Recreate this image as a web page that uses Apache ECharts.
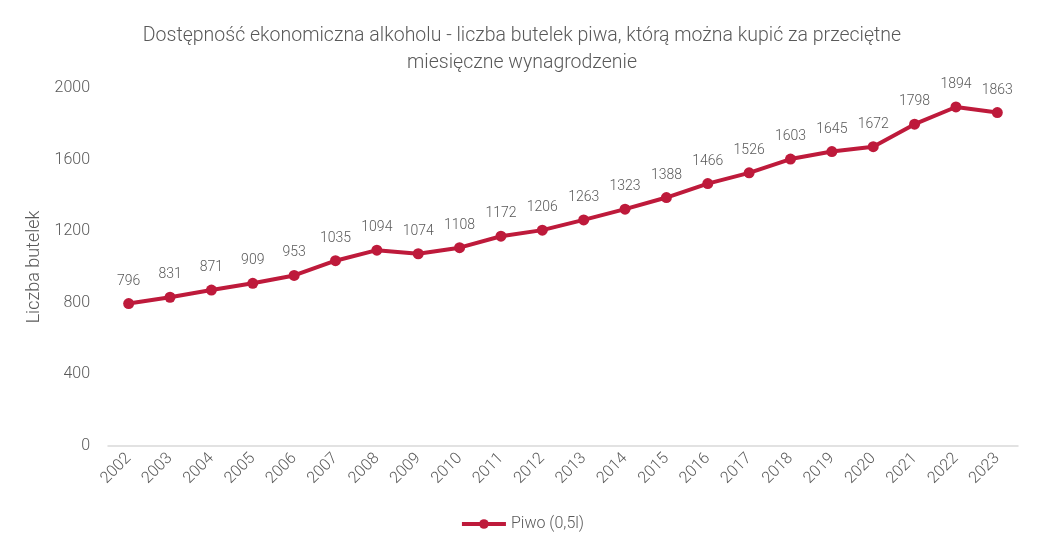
<!DOCTYPE html>
<html><head><meta charset="utf-8">
<script src="https://cdn.jsdelivr.net/npm/echarts@6/dist/echarts.min.js"></script>
<style>html,body{margin:0;padding:0;background:#fff}#c{width:1044px;height:553px}</style>
</head><body><div id="c"></div>
<script>
var categories = ['2002','2003','2004','2005','2006','2007','2008','2009','2010','2011','2012','2013','2014','2015','2016','2017','2018','2019','2020','2021','2022','2023'];
var piwo = [796,831,871,909,953,1035,1094,1074,1108,1172,1206,1263,1323,1388,1466,1526,1603,1645,1672,1798,1894,1863];
var yTicks = [0,400,800,1200,1600,2000];
var FONT = 'Roboto';
var chart = echarts.init(document.getElementById('c'));
chart.setOption({
  backgroundColor:'#fff',
  textStyle:{fontFamily:FONT},
  title:{
    text:'Dostępność ekonomiczna alkoholu - liczba butelek piwa, którą można kupić za przeciętne\nmiesięczne wynagrodzenie',
    left:'center', top:18,
    textStyle:{fontFamily:FONT,fontWeight:300,fontSize:19.5,color:'#595959',lineHeight:27}
  },
  legend:{
    bottom:16, left:'center',
    itemWidth:44, itemHeight:12, itemGap:4,
    lineStyle:{width:4},
    textStyle:{fontFamily:FONT,fontWeight:300,fontSize:16,color:'#595959'},
    data:['Piwo (0,5l)']
  },
  grid:{left:108,right:26,top:88,bottom:107},
  xAxis:{
    type:'category', data:categories, boundaryGap:true,
    axisLine:{lineStyle:{color:'#d9d9d9',width:1.5}},
    axisTick:{show:false},
    axisLabel:{rotate:45,fontFamily:FONT,fontWeight:300,fontSize:16,color:'#595959',margin:10}
  },
  yAxis:{
    type:'value', min:yTicks[0], max:yTicks[yTicks.length-1], interval:400,
    name:'Liczba butelek', nameLocation:'middle', nameGap:60, nameRotate:90,
    nameTextStyle:{fontFamily:FONT,fontWeight:300,fontSize:18,color:'#595959'},
    axisLine:{show:false}, axisTick:{show:false}, splitLine:{show:false},
    axisLabel:{fontFamily:FONT,fontWeight:300,fontSize:16,color:'#595959',margin:18,formatter:function(v){return String(v);}}
  },
  series:[{
    name:'Piwo (0,5l)', type:'line', data:piwo,
    symbol:'circle', symbolSize:11,
    lineStyle:{width:4,color:'#BE1A3B'},
    itemStyle:{color:'#BE1A3B'},
    label:{show:true,position:'top',distance:10,fontFamily:FONT,fontWeight:300,fontSize:14,color:'#595959'}
  }]
});
</script></body></html>
